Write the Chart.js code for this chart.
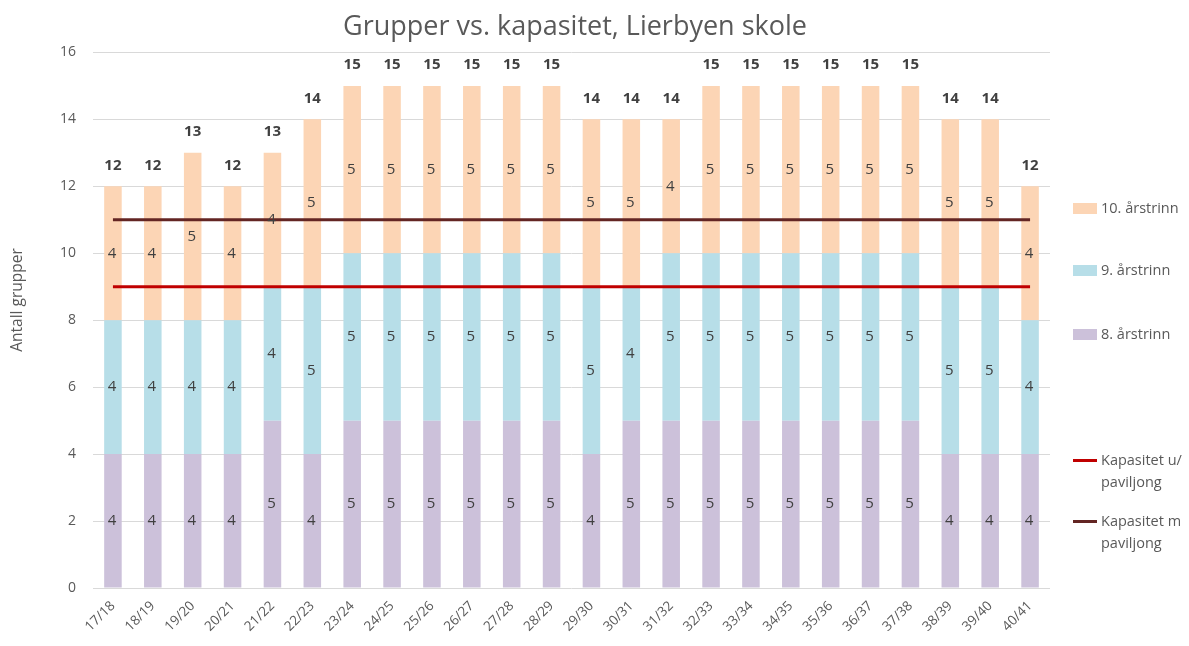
<!DOCTYPE html>
<html>
<head>
<meta charset="utf-8">
<script src="https://cdn.jsdelivr.net/npm/chart.js@4.4.1/dist/chart.umd.min.js"></script>
<style>
  html, body { margin: 0; padding: 0; background: #fff; }
  #wrap { position: relative; width: 1189px; height: 646px; }
  #legend { position: absolute; left: 1073px; top: 0; font-family: "Open Sans", sans-serif; font-size: 14.5px; color: #595959; }
  .item { position: absolute; left: 0; display: flex; align-items: flex-start; white-space: nowrap; line-height: 22px; }
  .sw { width: 24px; height: 11px; margin-top: 6px; margin-right: 4px; flex: none; }
  .ln { width: 24px; height: 3px; margin-top: 10px; margin-right: 4px; flex: none; }
</style>
</head>
<body>
<div id="wrap">
  <canvas id="chart" width="1189" height="646"></canvas>
  <div id="legend">
    <div class="item" style="top:197px"><div class="sw" style="background:#FCD5B5"></div>10. årstrinn</div>
    <div class="item" style="top:259px"><div class="sw" style="background:#B7DEE8"></div>9. årstrinn</div>
    <div class="item" style="top:323px"><div class="sw" style="background:#CCC1DA"></div>8. årstrinn</div>
    <div class="item" style="top:449px"><div class="ln" style="background:#C00000"></div>Kapasitet u/<br>paviljong</div>
    <div class="item" style="top:510px"><div class="ln" style="background:#632523"></div>Kapasitet m<br>paviljong</div>
  </div>
</div>
<script>
// skoleår
const years = ["17/18", "18/19", "19/20", "20/21", "21/22", "22/23", "23/24", "24/25",
  "25/26", "26/27", "27/28", "28/29", "29/30", "30/31", "31/32", "32/33",
  "33/34", "34/35", "35/36", "36/37", "37/38", "38/39", "39/40", "40/41"];

// antall grupper per trinn
const grade8 = [4, 4, 4, 4, 5, 4, 5, 5, 5, 5, 5, 5, 4, 5, 5, 5, 5, 5, 5, 5, 5, 4, 4, 4];
const grade9 = [4, 4, 4, 4, 4, 5, 5, 5, 5, 5, 5, 5, 5, 4, 5, 5, 5, 5, 5, 5, 5, 5, 5, 4];
const grade10 = [4, 4, 5, 4, 4, 5, 5, 5, 5, 5, 5, 5, 5, 5, 4, 5, 5, 5, 5, 5, 5, 5, 5, 4];

// kapasitet
const capWithout = 9;
const capWith = 11;

const yTicks = [0, 2, 4, 6, 8, 10, 12, 14, 16];

const totals = years.map((_, i) => grade8[i] + grade9[i] + grade10[i]);

const font = "'Open Sans', sans-serif";

const labelPlugin = {
  id: "barLabels",
  afterDatasetsDraw(chart) {
    const ctx = chart.ctx;
    ctx.save();
    ctx.textAlign = "center";
    ctx.textBaseline = "middle";
    ctx.fillStyle = "#404040";
    ctx.font = "15px " + font;
    chart.data.datasets.forEach((ds, di) => {
      if (ds.type !== "bar") return;
      const meta = chart.getDatasetMeta(di);
      meta.data.forEach((bar, i) => {
        ctx.fillText(String(ds.data[i]), bar.x - 1, (bar.y + bar.base) / 2);
      });
    });
    // totals above the stacks
    const top = chart.getDatasetMeta(2);
    ctx.font = "bold 15px " + font;
    top.data.forEach((bar, i) => {
      ctx.fillText(String(totals[i]), bar.x, bar.y - 21);
    });
    // y axis title
    ctx.font = "15.5px " + font;
    ctx.fillStyle = "#595959";
    ctx.translate(18, 300);
    ctx.rotate(-Math.PI / 2);
    ctx.fillText("Antall grupper", 0, 0);
    ctx.restore();
  }
};

new Chart(document.getElementById("chart"), {
  type: "bar",
  data: {
    labels: years,
    datasets: [
      { type: "bar", label: "8. årstrinn", data: grade8, backgroundColor: "#CCC1DA", order: 1 },
      { type: "bar", label: "9. årstrinn", data: grade9, backgroundColor: "#B7DEE8", order: 1 },
      { type: "bar", label: "10. årstrinn", data: grade10, backgroundColor: "#FCD5B5", order: 1 },
      {
        type: "line", label: "Kapasitet u/ paviljong", data: years.map(() => capWithout),
        borderColor: "#C00000", borderWidth: 3, pointRadius: 0, stack: "u", order: 0
      },
      {
        type: "line", label: "Kapasitet m paviljong", data: years.map(() => capWith),
        borderColor: "#632523", borderWidth: 3, pointRadius: 0, stack: "m", order: 0
      }
    ]
  },
  options: {
    responsive: false,
    animation: false,
    datasets: { bar: { categoryPercentage: 1, barPercentage: 0.44 } },
    layout: { padding: { left: 0, right: 39, top: 0, bottom: 0 } },
    plugins: {
      legend: { display: false },
      tooltip: { enabled: false },
      title: {
        display: true,
        text: "Grupper vs. kapasitet, Lierbyen skole",
        color: "#595959",
        font: { family: font, size: 27, weight: "normal" },
        padding: { top: 11, bottom: 9 }
      }
    },
    scales: {
      x: {
        stacked: true,
        grid: { display: false },
        border: { display: false },
        ticks: { color: "#595959", font: { family: font, size: 13.5 }, minRotation: 45, maxRotation: 45, padding: 2 },
        afterFit: (s) => { s.height = 58; }
      },
      y: {
        stacked: true,
        min: 0,
        max: 16,
        afterBuildTicks: (s) => { s.ticks = yTicks.map((v) => ({ value: v })); },
        grid: { color: "#D9D9D9", drawTicks: false },
        border: { display: false },
        ticks: { color: "#595959", font: { family: font, size: 14 }, padding: 17 },
        afterFit: (s) => { s.width = 93; }
      },
      // empty room on the right for the legend
      legendRoom: {
        type: "linear",
        position: "right",
        display: true,
        grid: { display: false },
        border: { display: false },
        ticks: { display: false },
        afterFit: (s) => { s.width = 100; }
      }
    }
  },
  plugins: [labelPlugin]
});
</script>
</body>
</html>
